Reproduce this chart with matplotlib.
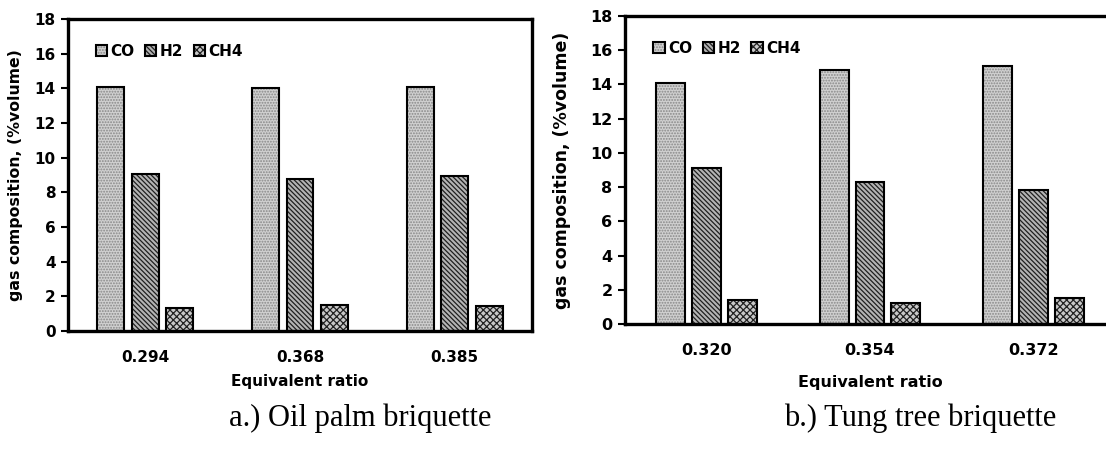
import numpy as np
import matplotlib
matplotlib.use('Agg')
import matplotlib.pyplot as plt
from matplotlib.legend_handler import HandlerTuple

# data
species = ['CO', 'H2', 'CH4']
ratios_a = ['0.294', '0.368', '0.385']
co_a = [14.1, 14.0, 14.05]
h2_a = [9.05, 8.75, 8.95]
ch4_a = [1.35, 1.5, 1.45]

ratios_b = ['0.320', '0.354', '0.372']
co_b = [14.1, 14.85, 15.05]
h2_b = [9.1, 8.3, 7.85]
ch4_b = [1.4, 1.2, 1.5]

plt.rcParams['font.family'] = ['DejaVu Sans']
plt.rcParams['font.weight'] = 'bold'
plt.rcParams['hatch.linewidth'] = 0.9

styles = [('#d0d0d0', '#888888', '......'),
          ('#b4b4b4', '#202020', '\\\\\\\\\\\\\\'),
          ('#c8c8c8', '#222222', 'xxxxx')]

fig = plt.figure(figsize=(11.06, 4.5), dpi=100)
ax1 = fig.add_axes([68/1106, 1-331/450, 464/1106, 312/450])
ax2 = fig.add_axes([625/1106, 1-324/450, 490/1106, 308/450])


def draw(ax, labels, series, width, step, fs):
    x = np.arange(len(labels))
    handles = []
    for i, vals in enumerate(series):
        fc, hc, hatch = styles[i]
        pos = x + (i - 1) * step
        b1 = ax.bar(pos, vals, width, color=fc, edgecolor=hc, hatch=hatch, linewidth=0, zorder=2)
        b2 = ax.bar(pos, vals, width, fill=False, edgecolor='black', linewidth=1.5, zorder=3)
        handles.append((b1[0], b2[0]))
    ax.set_xlim(-0.5, len(labels) - 0.5)
    ax.set_ylim(0, 18)
    ax.set_yticks(range(0, 19, 2))
    ax.set_xticks(x)
    ax.set_xticklabels(labels)
    ax.tick_params(axis='x', length=0, pad=14, labelsize=fs)
    ax.tick_params(axis='y', length=5, width=1.5, direction='out', labelsize=fs, pad=4)
    for s in ax.spines.values():
        s.set_linewidth(2.4)
    ax.legend(handles, species, handler_map={tuple: HandlerTuple(ndivide=1, pad=0)},
              loc='upper left', bbox_to_anchor=(0.03, 0.965), ncol=3, frameon=False,
              handlelength=0.75, handleheight=0.75, handletextpad=0.2, columnspacing=0.7,
              prop={'weight': 'bold', 'size': 11})
    return handles


draw(ax1, ratios_a, [co_a, h2_a, ch4_a], 0.174, 0.223, 11)
ax1.set_xlabel('Equivalent ratio', fontsize=11, fontweight='bold', labelpad=6)
ax1.set_ylabel('gas composition, (%volume)', fontsize=11.3, fontweight='bold')
ax1.yaxis.set_label_coords(-0.098, 0.5)

draw(ax2, ratios_b, [co_b, h2_b, ch4_b], 0.177, 0.22, 11.5)
ax2.set_xlabel('Equivalent ratio', fontsize=11.5, fontweight='bold', labelpad=12)
ax2.set_ylabel('gas composition, (%volume)', fontsize=12.5, fontweight='bold')
ax2.yaxis.set_label_coords(-0.11, 0.5)

fig.text(360/1106, 1-418/450, 'a.) Oil palm briquette', ha='center', va='center',
         family='Liberation Serif', fontweight='normal', fontsize=22)
fig.text(920/1106, 1-418/450, 'b.) Tung tree briquette', ha='center', va='center',
         family='Liberation Serif', fontweight='normal', fontsize=22)

fig.savefig('out.png', dpi=100)
